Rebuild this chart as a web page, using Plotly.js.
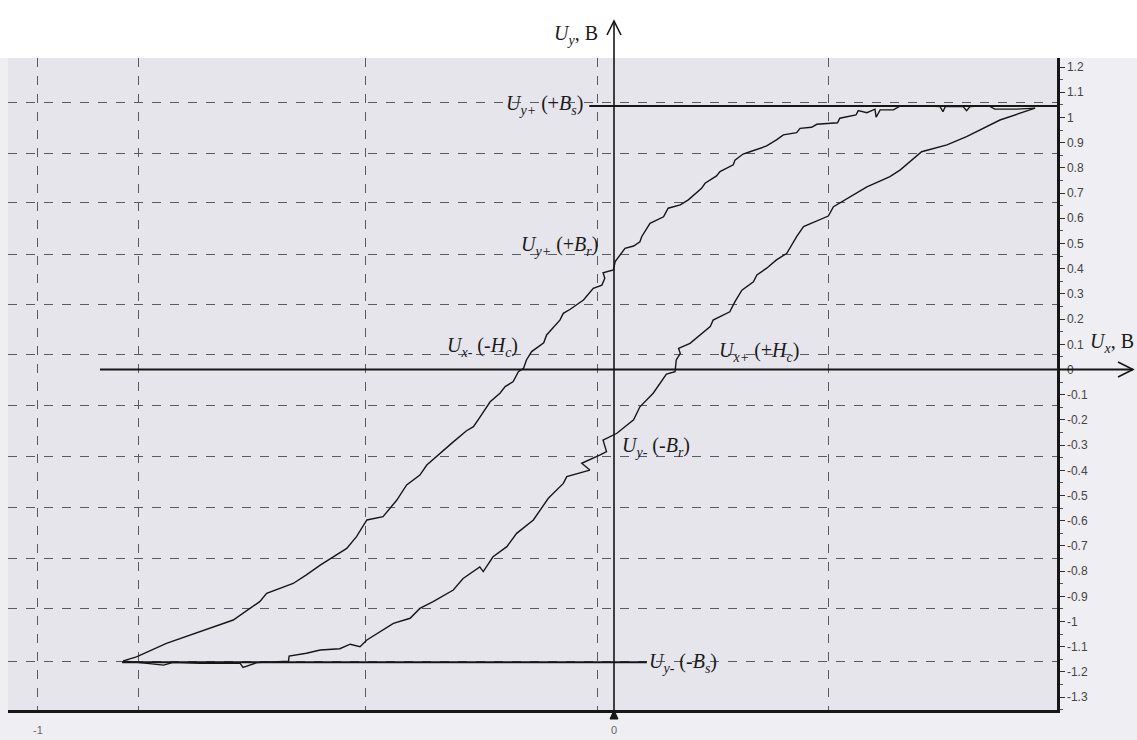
<!DOCTYPE html>
<html>
<head>
<meta charset="utf-8">
<script src="https://cdn.plot.ly/plotly-3.0.1.min.js"></script>
<style>html,body{margin:0;padding:0;background:#fff;}#chart{width:1137px;height:740px;}</style>
</head>
<body>
<div id="chart"></div>
<script>
// Descending branch (from +Bs down to -Bs), Ux (B) and Uy (B)
const descU = [0.731,0.699,0.661,0.650,0.618,0.612,0.606,0.575,0.571,0.566,0.526,0.497,0.485,0.462,0.455,0.453,0.439,0.424,0.420,0.392,0.388,0.375,0.352,0.343,0.323,0.317,0.294,0.282,0.265,0.236,0.224,0.210,0.207,0.184,0.178,0.158,0.152,0.129,0.115,0.094,0.086,0.0625,0.048,0.045,0.034,0.019,0.005,0.002,-0.001,-0.019,-0.016,-0.021,-0.036,-0.053,-0.076,-0.088,-0.094,-0.117,-0.122,-0.143,-0.152,-0.157,-0.166,-0.175,-0.189,-0.198,-0.215,-0.224,-0.233,-0.244,-0.256,-0.279,-0.302,-0.325,-0.337,-0.360,-0.377,-0.401,-0.429,-0.447,-0.464,-0.487,-0.510,-0.534,-0.557,-0.603,-0.615,-0.661,-0.719,-0.777,-0.829,-0.852];
const descV = [1.037,1.033,1.033,1.047,1.043,1.027,1.043,1.043,1.023,1.043,1.047,1.046,1.030,1.030,1.001,1.033,1.019,1.027,1.010,0.997,0.979,0.977,0.973,0.961,0.957,0.940,0.931,0.911,0.887,0.864,0.855,0.831,0.812,0.785,0.768,0.739,0.719,0.673,0.653,0.640,0.606,0.580,0.527,0.507,0.490,0.481,0.441,0.428,0.395,0.384,0.362,0.335,0.322,0.276,0.239,0.223,0.196,0.137,0.106,0.071,0.038,0.005,-0.009,-0.048,-0.068,-0.094,-0.128,-0.161,-0.190,-0.227,-0.243,-0.287,-0.333,-0.379,-0.419,-0.458,-0.518,-0.584,-0.597,-0.663,-0.710,-0.743,-0.776,-0.815,-0.849,-0.888,-0.921,-0.994,-1.040,-1.087,-1.140,-1.156];
// Ascending branch (from -Bs up to +Bs)
const ascU = [-0.852,-0.817,-0.782,-0.765,-0.719,-0.649,-0.644,-0.620,-0.565,-0.564,-0.534,-0.510,-0.476,-0.458,-0.441,-0.429,-0.406,-0.383,-0.354,-0.337,-0.314,-0.279,-0.262,-0.233,-0.227,-0.210,-0.186,-0.169,-0.140,-0.123,-0.114,-0.088,-0.082,-0.042,-0.056,-0.024,-0.013,-0.019,0.005,0.034,0.045,0.068,0.091,0.106,0.108,0.115,0.112,0.132,0.149,0.167,0.172,0.201,0.210,0.222,0.242,0.248,0.265,0.282,0.300,0.317,0.329,0.372,0.381,0.410,0.439,0.479,0.497,0.534,0.578,0.612,0.670,0.731];
const ascV = [-1.156,-1.166,-1.173,-1.162,-1.166,-1.166,-1.182,-1.163,-1.157,-1.137,-1.126,-1.113,-1.108,-1.090,-1.100,-1.073,-1.040,-1.007,-0.987,-0.948,-0.921,-0.875,-0.829,-0.783,-0.802,-0.743,-0.703,-0.650,-0.597,-0.544,-0.511,-0.452,-0.425,-0.399,-0.372,-0.339,-0.326,-0.280,-0.253,-0.200,-0.148,-0.094,-0.018,-0.009,0.038,0.064,0.084,0.104,0.137,0.170,0.196,0.229,0.269,0.315,0.348,0.375,0.402,0.435,0.461,0.527,0.567,0.609,0.646,0.686,0.725,0.765,0.792,0.864,0.891,0.924,0.990,1.037];
// Saturation levels (+Bs, -Bs) and their marker lines
const satTopU = [-0.043, 0.774];
const satTopV = [1.046, 1.046];
const satBotU = [-0.854, 0.057];
const satBotV = [-1.162, -1.162];
// Axis ticks
const yTickVals = [1.2,1.1,1,0.9,0.8,0.7,0.6,0.5,0.4,0.3,0.2,0.1,0,-0.1,-0.2,-0.3,-0.4,-0.5,-0.6,-0.7,-0.8,-0.9,-1,-1.1,-1.2,-1.3];
const yTickText = ['1.2','1.1','1','0.9','0.8','0.7','0.6','0.5','0.4','0.3','0.2','0.1','0','-0.1','-0.2','-0.3','-0.4','-0.5','-0.6','-0.7','-0.8','-0.9','-1','-1.1','-1.2','-1.3'];
const xTickVals = [-1, 0];
const xTickText = ['-1', '0'];
const gridU = [-1.0, -0.826, -0.431, -0.028, 0.372];
const gridV = [1.058, 0.859, 0.661, 0.458, 0.256, 0.058, -0.141, -0.347, -0.546, -0.748, -0.950, -1.157];

const xr = [-1.052, 0.769];
const yr = [-1.351, 1.236];
const ink = '#161616';
const serif = 'Liberation Serif, Times New Roman, serif';

const traces = [
  {x: gridU, y: gridU.map(() => 0), xaxis: 'x2', yaxis: 'y2', mode: 'markers', marker: {opacity: 0}, hoverinfo: 'skip'},
  {x: descU, y: descV, mode: 'lines', line: {color: ink, width: 1.4}, hoverinfo: 'skip'},
  {x: ascU, y: ascV, mode: 'lines', line: {color: ink, width: 1.4}, hoverinfo: 'skip'},
  {x: satTopU, y: satTopV, mode: 'lines', line: {color: ink, width: 2}, hoverinfo: 'skip'},
  {x: satBotU, y: satBotV, mode: 'lines', line: {color: ink, width: 2}, hoverinfo: 'skip'}
];

// subscript without zero-width reset spans
function sb(t) { return '<span style="font-size:14px;baseline-shift:-5px"><i>' + t + '</i></span>'; }

function lab(x, y, text, xanchor, ref) {
  return {x: x, y: y, xref: ref || 'x', yref: ref || 'y', text: text, showarrow: false, xanchor: xanchor, yanchor: 'middle',
    font: {family: serif, size: 20, color: '#1a1a1a'}};
}

const annotations = [
  lab(0.5643, 1.0353, '<i>U</i>' + sb('y') + ', В', 'right', 'paper'),
  lab(1.0296, 0.5629, '<i>U</i>' + sb('x') + ', В', 'left', 'paper'),
  lab(-0.050, 1.049, '<i>U</i>' + sb('y+') + ' (+<i>B</i>' + sb('s') + ')', 'right'),
  lab(-0.024, 0.490, '<i>U</i>' + sb('y+') + ' (+<i>B</i>' + sb('r') + ')', 'right'),
  lab(-0.163, 0.089, '<i>U</i>' + sb('x-') + ' (-<i>H</i>' + sb('c') + ')', 'right'),
  lab(0.179, 0.069, '<i>U</i>' + sb('x+') + ' (+<i>H</i>' + sb('c') + ')', 'left'),
  lab(0.010, -0.308, '<i>U</i>' + sb('y-') + ' (-<i>B</i>' + sb('r') + ')', 'left'),
  lab(0.057, -1.165, '<i>U</i>' + sb('y-') + ' (-<i>B</i>' + sb('s') + ')', 'left')
];

// decorative drawn axes (paper coordinates of the 1049x652 plot area)
const W = 1049, H = 652;
function px(x) { return (x - 8) / W; }
function py(y) { return (710 - y) / H; }
const shapes = [
  {type: 'rect', xref: 'paper', yref: 'paper', x0: -0.01, x1: 1.08, y0: 1.0, y1: 1.09, fillcolor: '#ffffff',
   line: {width: 0}, layer: 'below'},
  {type: 'line', xref: 'paper', yref: 'paper', x0: px(614), x1: px(614), y0: py(710), y1: py(21),
   line: {color: ink, width: 1.6}},
  {type: 'path', xref: 'paper', yref: 'paper',
   path: 'M' + px(607) + ',' + py(35) + ' L' + px(614) + ',' + py(21) + ' L' + px(621) + ',' + py(35),
   line: {color: ink, width: 1.6}},
  {type: 'line', xref: 'paper', yref: 'paper', x0: px(100), x1: px(1133), y0: py(369.5), y1: py(369.5),
   line: {color: ink, width: 1.8}},
  {type: 'path', xref: 'paper', yref: 'paper',
   path: 'M' + px(1118) + ',' + py(362) + ' L' + px(1133) + ',' + py(369.5) + ' L' + px(1118) + ',' + py(377),
   line: {color: ink, width: 1.6}},
  {type: 'path', xref: 'paper', yref: 'paper',
   path: 'M' + px(610) + ',' + py(719) + ' L' + px(614) + ',' + py(710) + ' L' + px(618) + ',' + py(719) + ' Z',
   fillcolor: ink, line: {color: ink, width: 1}}
];

const layout = {
  width: 1137, height: 740,
  margin: {l: 8, r: 80, t: 58, b: 30, pad: 0},
  paper_bgcolor: '#efeef2',
  plot_bgcolor: '#e6e5ec',
  showlegend: false,
  xaxis: {range: xr, tickmode: 'array', tickvals: xTickVals, ticktext: xTickText, ticks: '', showgrid: false,
    zeroline: false, showline: true, linecolor: ink, linewidth: 3, ticklabelstandoff: 8,
    tickfont: {family: 'Liberation Sans, Arial, sans-serif', size: 11, color: '#666'}},
  xaxis2: {range: xr, overlaying: 'x', anchor: 'y', tickmode: 'array', tickvals: gridU, showgrid: true,
    gridcolor: '#5a5a66', griddash: 'dash', gridwidth: 1, showticklabels: false, ticks: '', zeroline: false,
    showline: false},
  yaxis: {range: yr, side: 'right', tickmode: 'array', tickvals: yTickVals, ticktext: yTickText, ticks: 'outside',
    ticklen: 5, tickwidth: 1, tickcolor: '#333', showgrid: false, zeroline: false, showline: true,
    linecolor: ink, linewidth: 2.5,
    minor: {tickmode: 'linear', tick0: 0, dtick: 0.05, ticks: 'outside', ticklen: 3, tickcolor: '#555'},
    tickfont: {family: 'Liberation Sans, Arial, sans-serif', size: 12, color: '#444'}},
  yaxis2: {range: yr, overlaying: 'y', anchor: 'x', side: 'left', tickmode: 'array', tickvals: gridV,
    showgrid: true, gridcolor: '#5a5a66', griddash: 'dash', gridwidth: 1, showticklabels: false, ticks: '',
    zeroline: false, showline: false},
  shapes: shapes,
  annotations: annotations
};

Plotly.newPlot('chart', traces, layout, {displayModeBar: false, staticPlot: true});
</script>
</body>
</html>
